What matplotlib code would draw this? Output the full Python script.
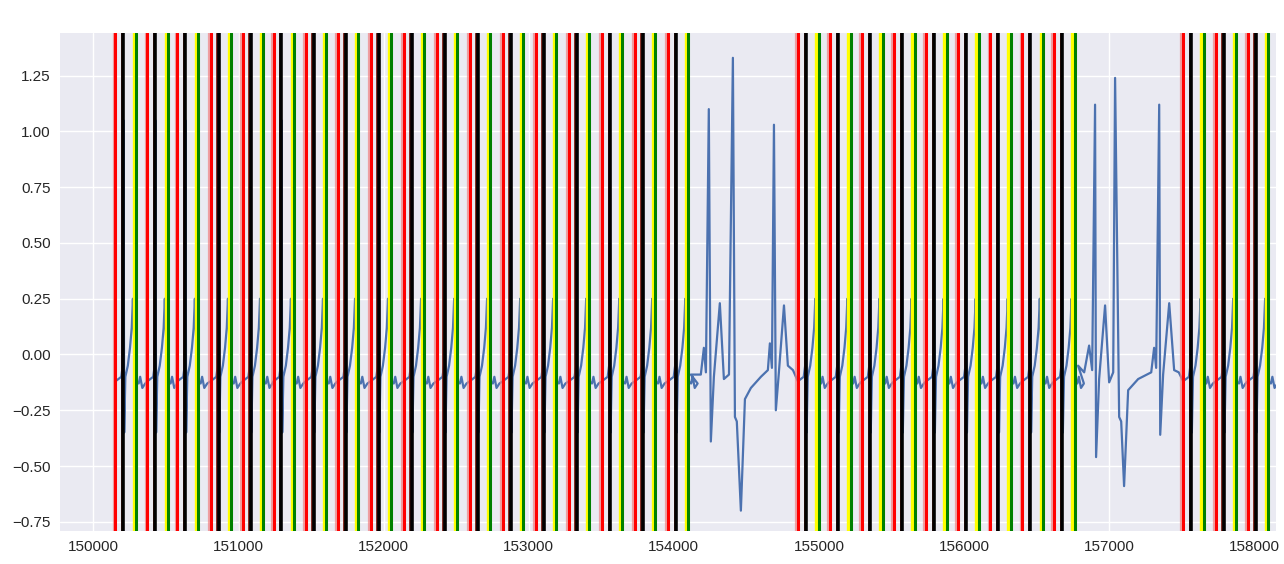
import numpy as np
import matplotlib
matplotlib.use('Agg')
import matplotlib.pyplot as plt

plt.style.use('seaborn-v0_8')
plt.rcParams['font.family'] = ['Liberation Sans Narrow', 'Liberation Sans', 'DejaVu Sans']

# beat onsets (samples) for the delineated stretches of the record
beat_onsets = [150152, 150372, 150579, 150807, 151028, 151241, 151462, 151683, 151910,
               152138, 152366, 152593, 152821, 153048, 153276, 153504, 153731, 153959,
               154855, 155076, 155297, 155518, 155739, 155960, 156181, 156402, 156621,
               157510, 157735, 157955]

# fiducial offsets from each onset (samples)
r_offset = 55
tpeak_offset = 125
tend_offset = 142

# one normal beat: offsets from onset and amplitude
beat_t = [0, 40, 50, 55, 60, 68, 85, 100, 112, 120, 130, 142, 160, 170, 185, 205]
beat_v = [-0.12, -0.10, -0.05, 1.05, -0.35, -0.10, -0.05, 0.03, 0.12, 0.25, 0.05,
          -0.12, -0.13, -0.10, -0.15, -0.13]

# undelineated stretches (ectopic beats)
gap1_t = [154117, 154186, 154207, 154221, 154241, 154255, 154276, 154317, 154345,
          154380, 154407, 154421, 154434, 154462, 154490, 154531, 154600, 154648,
          154662, 154676, 154690, 154703, 154724, 154759, 154786, 154821]
gap1_v = [-0.09, -0.09, 0.03, -0.08, 1.10, -0.39, -0.10, 0.23, -0.11,
          -0.09, 1.33, -0.28, -0.30, -0.70, -0.20, -0.15, -0.10, -0.07,
          0.05, -0.06, 1.03, -0.25, -0.08, 0.22, -0.05, -0.07]
gap2_t = [156786, 156828, 156862, 156883, 156903, 156910, 156931, 156972, 157000,
          157028, 157041, 157069, 157083, 157103, 157131, 157200, 157290, 157310,
          157324, 157345, 157352, 157372, 157414, 157448, 157480]
gap2_v = [-0.05, -0.08, 0.04, -0.07, 1.12, -0.46, -0.11, 0.22, -0.125,
          -0.08, 1.24, -0.28, -0.30, -0.59, -0.16, -0.11, -0.08, 0.03,
          -0.06, 1.12, -0.36, -0.09, 0.23, -0.07, -0.08]

# assemble the trace in time order
pieces = []
for on in beat_onsets:
    pieces.append((on, [on + t for t in beat_t], beat_v))
pieces.append((gap1_t[0], gap1_t, gap1_v))
pieces.append((gap2_t[0], gap2_t, gap2_v))
pieces.sort(key=lambda p: p[0])
sig_t = np.concatenate([p[1] for p in pieces])
sig_v = np.concatenate([p[2] for p in pieces])

fig, ax = plt.subplots(figsize=(12.84, 5.64), dpi=100)
fig.subplots_adjust(left=0.047, right=0.994, top=0.941, bottom=0.059)

ax.plot(sig_t, sig_v, color='#4C72B0', lw=1.6)

for on in beat_onsets:
    ax.axvline(on - 12, color='lightcoral', lw=1.6, alpha=0.7)
    ax.axvline(on, color='red', lw=2.2)
    ax.axvline(on + r_offset - 9, color='#7a1a10', lw=2.0)
    ax.axvline(on + r_offset, color='black', lw=2.6)
    ax.axvline(on + tpeak_offset, color='yellow', lw=2.4)
    ax.axvline(on + tend_offset, color='green', lw=2.2)

ax.set_xlim(149772, 158152)
ax.set_ylim(-0.79, 1.44)
ax.tick_params(labelsize=11)

plt.savefig('out.png', dpi=100)
